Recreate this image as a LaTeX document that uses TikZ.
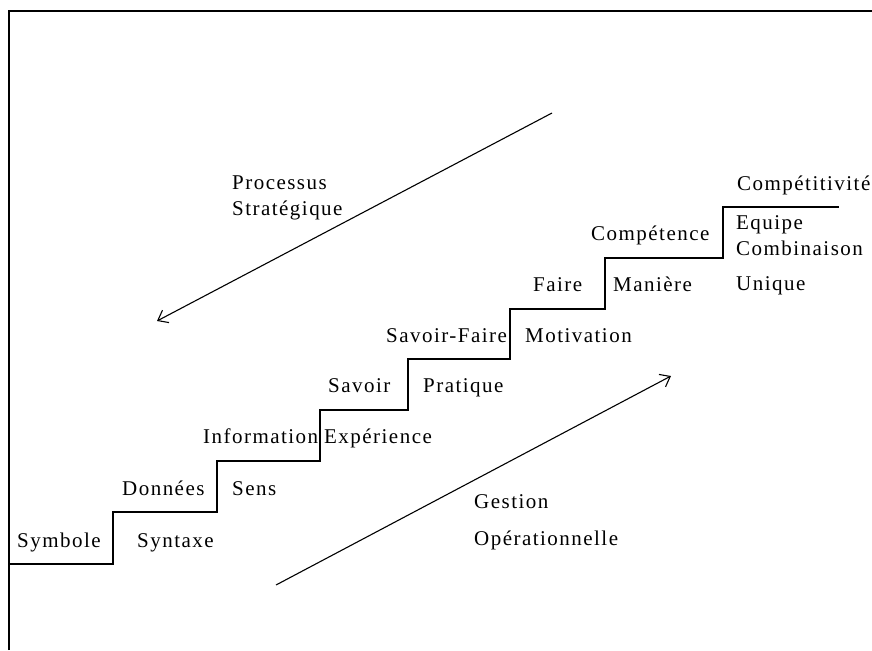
\documentclass[tikz,border=0pt]{standalone}
\usepackage{fontspec}
\setmainfont{Liberation Serif}[LetterSpace=7]
\usetikzlibrary{arrows.meta}
\begin{document}
\begin{tikzpicture}[x=1pt,y=-1pt,
  lbl/.style={anchor=base west, inner sep=0pt, font=\fontsize{21}{23}\selectfont},
  stair/.style={line width=1.4pt},
  frame/.style={line width=1.6pt},
  flow/.style={line width=1.1pt, -{Straight Barb[length=9pt,width=14pt]}}]
\useasboundingbox (0,0) rectangle (872,650);
% frame
\draw[frame] (9,650) -- (9,11) -- (872,11);
% staircase
\draw[stair] (9,564) -- (113,564) -- (113,512) -- (217,512) -- (217,461)
  -- (320,461) -- (320,410) -- (408,410) -- (408,359) -- (510,359)
  -- (510,309) -- (605,309) -- (605,258) -- (723,258) -- (723,207) -- (839,207);
% step labels
\node[lbl] (symbole) at (17,547) {Symbole};
\node[lbl] (syntaxe) at (137,547) {Syntaxe};
\node[lbl] (donnees) at (122,495) {Données};
\node[lbl] (sens) at (232,495) {Sens};
\node[lbl] (information) at (203,443) {Information};
\node[lbl] (experience) at (324,443) {Expérience};
\node[lbl] (savoir) at (328,392) {Savoir};
\node[lbl] (pratique) at (423,392) {Pratique};
\node[lbl] (savoirfaire) at (386,342) {Savoir-Faire};
\node[lbl] (motivation) at (525,342) {Motivation};
\node[lbl] (faire) at (533,291) {Faire};
\node[lbl] (maniere) at (613,291) {Manière};
\node[lbl] (competence) at (591,240) {Compétence};
\node[lbl] (competitivite) at (737,190) {Compétitivité};
\node[lbl] (equipe) at (736,229) {Equipe};
\node[lbl] (combinaison) at (736,255) {Combinaison};
\node[lbl] (unique) at (736,290) {Unique};
% arrows
\coordinate (ps) at (552,113);
\coordinate (pe) at (157,321);
\draw[flow] (ps) -- (pe);
\coordinate (gs) at (276,585);
\coordinate (ge) at (671,376);
\draw[flow] (gs) -- (ge);
\node[lbl] (processus) at (232,189) {Processus};
\node[lbl] (strategique) at (232,215) {Stratégique};
\node[lbl] (gestion) at (474,508) {Gestion};
\node[lbl] (operationnelle) at (474,545) {Opérationnelle};
\end{tikzpicture}
\end{document}
